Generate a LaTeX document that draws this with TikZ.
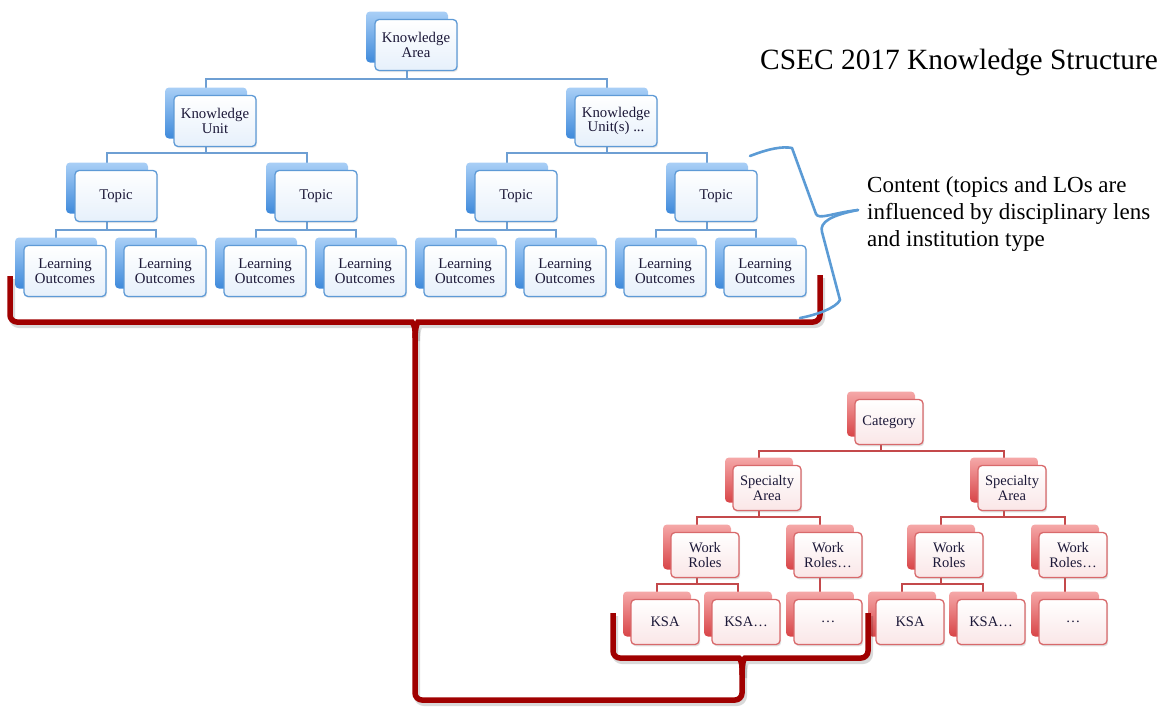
\documentclass[tikz,border=0pt]{standalone}
\usepackage{fontspec}
\setmainfont{Liberation Serif}
\usetikzlibrary{calc,backgrounds,shadows}
\definecolor{BBackTop}{HTML}{A9CFF6}
\definecolor{BBackBot}{HTML}{3F8ADB}
\definecolor{BFrontBot}{HTML}{E6F0FB}
\definecolor{BFrontDraw}{HTML}{5E9AD6}
\definecolor{BConn}{HTML}{6E9FD3}
\definecolor{RBackTop}{HTML}{F5A8A8}
\definecolor{RBackBot}{HTML}{D84548}
\definecolor{RFrontBot}{HTML}{FAE6E7}
\definecolor{RFrontDraw}{HTML}{D8696B}
\definecolor{RConn}{HTML}{C4494B}
\definecolor{BraceRed}{HTML}{A00000}
\definecolor{BraceBlue}{HTML}{5B9BD5}
\definecolor{NodeText}{HTML}{1C1838}
\newcommand\BlueBox[4]{\node[bback] (#1) at (#2,#3) {}; \node[bfront] (#1f) at (#2+9,#3+8) {#4};}
\newcommand\RedBox[4]{\node[rback] (#1) at (#2,#3) {}; \node[rfront] (#1f) at (#2+8,#3+8) {#4};}
\newcommand\Link[4]{\draw[#1] (#2.center) -- ++(0,#4) -| (#3.center);}
\begin{document}
\begin{tikzpicture}[x=1pt,y=-1pt,
  bback/.style={rounded corners=4pt, minimum width=82pt, minimum height=51pt, inner sep=0pt, top color=BBackTop, bottom color=BBackBot},
  bfront/.style={rounded corners=4pt, minimum width=82pt, minimum height=51pt, inner sep=0pt, top color=white, bottom color=BFrontBot, draw=BFrontDraw, line width=1.3pt, align=center, font=\fontsize{14.8}{14.5}\selectfont, text=NodeText, drop shadow={opacity=0.18, shadow xshift=1.2pt, shadow yshift=-1.5pt}},
  rback/.style={rounded corners=4pt, minimum width=68pt, minimum height=45pt, inner sep=0pt, top color=RBackTop, bottom color=RBackBot},
  rfront/.style={rounded corners=4pt, minimum width=68pt, minimum height=45pt, inner sep=0pt, top color=white, bottom color=RFrontBot, draw=RFrontDraw, line width=1.3pt, align=center, font=\fontsize{14.5}{14.5}\selectfont, text=NodeText, drop shadow={opacity=0.25, shadow xshift=1.2pt, shadow yshift=-1.8pt}},
  bconn/.style={draw=BConn, line width=1.8pt},
  rconn/.style={draw=RConn, line width=2.6pt},
  bracered/.style={draw=BraceRed, line width=5.5pt, rounded corners=7pt},
  braceshadow/.style={draw=black, opacity=0.15, line width=6pt, rounded corners=7pt},
  braceblue/.style={draw=BraceBlue, line width=2.6pt, line join=round, line cap=round}]
\path[use as bounding box] (0,0) rectangle (1164,713);

% ---- blue tree ----
\BlueBox{ka}{407}{37}{Knowledge\\Area}
\BlueBox{kua}{206}{113}{Knowledge\\Unit}
\BlueBox{kub}{607}{113}{Knowledge\\Unit(s) ...}
\BlueBox{ta}{107}{188}{Topic}
\BlueBox{tb}{307}{188}{Topic}
\BlueBox{tc}{507}{188}{Topic}
\BlueBox{td}{707}{188}{Topic}
\BlueBox{loa}{56}{263}{Learning\\Outcomes}
\BlueBox{lob}{156}{263}{Learning\\Outcomes}
\BlueBox{loc}{256}{263}{Learning\\Outcomes}
\BlueBox{lod}{356}{263}{Learning\\Outcomes}
\BlueBox{loe}{456}{263}{Learning\\Outcomes}
\BlueBox{lof}{556}{263}{Learning\\Outcomes}
\BlueBox{log}{656}{263}{Learning\\Outcomes}
\BlueBox{loh}{756}{263}{Learning\\Outcomes}

% ---- red tree ----
\RedBox{cat}{881}{414}{Category}
\RedBox{saa}{759}{480}{Specialty\\Area}
\RedBox{sab}{1004}{480}{Specialty\\Area}
\RedBox{wra}{697}{547}{Work\\Roles}
\RedBox{wrb}{820}{547}{Work\\Roles…}
\RedBox{wrc}{941}{547}{Work\\Roles}
\RedBox{wrd}{1065}{547}{Work\\Roles…}
\RedBox{ka1}{657}{614}{KSA}
\RedBox{ka2}{738}{614}{KSA…}
\RedBox{ka3}{820}{614}{…}
\RedBox{ka4}{902}{614}{KSA}
\RedBox{ka5}{983}{614}{KSA…}
\RedBox{ka6}{1065}{614}{…}

\begin{scope}[on background layer]
\Link{bconn}{ka}{kua}{42}
\Link{bconn}{ka}{kub}{42}
\Link{bconn}{kua}{ta}{40}
\Link{bconn}{kua}{tb}{40}
\Link{bconn}{kub}{tc}{40}
\Link{bconn}{kub}{td}{40}
\Link{bconn}{ta}{loa}{42}
\Link{bconn}{ta}{lob}{42}
\Link{bconn}{tb}{loc}{42}
\Link{bconn}{tb}{lod}{42}
\Link{bconn}{tc}{loe}{42}
\Link{bconn}{tc}{lof}{42}
\Link{bconn}{td}{log}{42}
\Link{bconn}{td}{loh}{42}
\Link{rconn}{cat}{saa}{37}
\Link{rconn}{cat}{sab}{37}
\Link{rconn}{saa}{wra}{37}
\Link{rconn}{saa}{wrb}{37}
\Link{rconn}{sab}{wrc}{37}
\Link{rconn}{sab}{wrd}{37}
\Link{rconn}{wra}{ka1}{37}
\Link{rconn}{wra}{ka2}{37}
\draw[rconn] (wrb.center) -- (ka3.center);
\Link{rconn}{wrc}{ka4}{37}
\Link{rconn}{wrc}{ka5}{37}
\draw[rconn] (wrd.center) -- (ka6.center);
\end{scope}

% ---- red braces ----
\begin{scope}[shift={(2,3)}]
\draw[braceshadow] (10,276) -- (10,322) -- (405,322) .. controls (412,322) and (415,326) .. (415,338) -- (415,700) -- (742,700) -- (742,675) .. controls (742,663) and (740,658) .. (732,658) -- (613,658) -- (613,613);
\draw[braceshadow] (820,275) -- (820,322) -- (425,322) .. controls (418,322) and (415,326) .. (415,338);
\draw[braceshadow] (868,613) -- (868,658) -- (752,658) .. controls (744,658) and (742,663) .. (742,675);
\end{scope}
\draw[bracered] (10,276) -- (10,322) -- (405,322) .. controls (412,322) and (415,326) .. (415,338) -- (415,700) -- (742,700) -- (742,675) .. controls (742,663) and (740,658) .. (732,658) -- (613,658) -- (613,613);
\draw[bracered] (820,275) -- (820,322) -- (425,322) .. controls (418,322) and (415,326) .. (415,338);
\draw[bracered] (868,613) -- (868,658) -- (752,658) .. controls (744,658) and (742,663) .. (742,675);

% ---- blue brace ----
\draw[braceblue] (750,156) .. controls (768,149) and (782,146) .. (792,148) -- (816,214) .. controls (819,220) and (832,213) .. (858,210);
\draw[braceblue] (858,210) .. controls (832,215) and (819,222) .. (822,232) -- (840,300) .. controls (836,308) and (816,315) .. (800,318);

% ---- texts ----
\node[anchor=base west, inner sep=0pt, font=\fontsize{29.4}{32}\selectfont] (title) at (760,69) {CSEC 2017 Knowledge Structure};
\node[anchor=north west, inner sep=0pt, align=left, font=\fontsize{23}{27}\selectfont] (content) at (867,176) {Content (topics and LOs are\\influenced by disciplinary lens\\and institution type};
\end{tikzpicture}
\end{document}
